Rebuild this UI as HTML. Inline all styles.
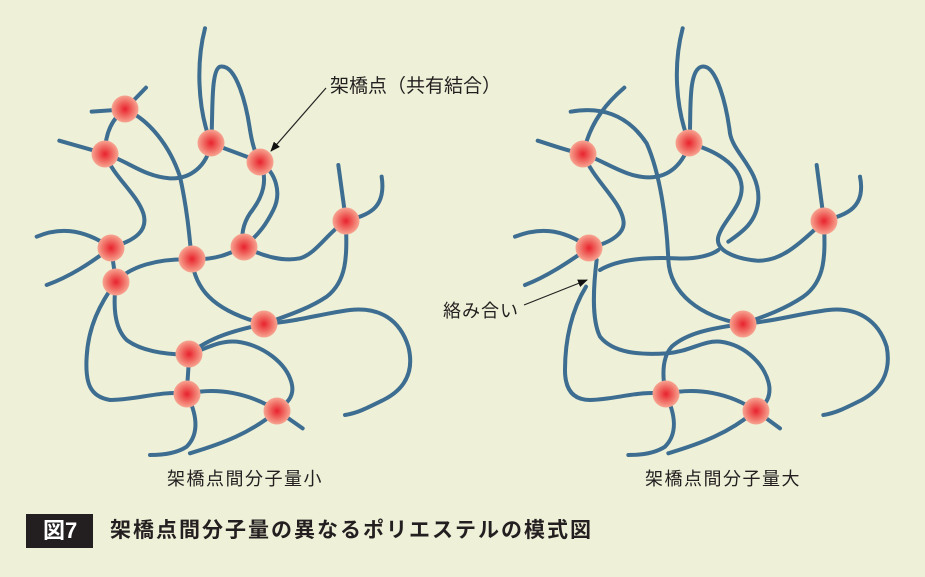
<!DOCTYPE html>
<html><head><meta charset="utf-8"><style>
html,body{margin:0;padding:0;}
body{width:925px;height:577px;background:#eef0d7;position:relative;overflow:hidden;font-family:"Liberation Sans","Noto Sans CJK JP",sans-serif;}
svg{position:absolute;left:0;top:0;}
.t{position:absolute;color:#231f20;white-space:nowrap;}
</style></head><body>
<svg width="925" height="577" viewBox="0 0 925 577">
<defs>
<radialGradient id="n" cx="50%" cy="50%" r="50%">
<stop offset="0" stop-color="#e8222e"/><stop offset="0.55" stop-color="#f06a62"/><stop offset="1" stop-color="#f7a592"/>
</radialGradient>
<marker id="ar" markerWidth="10" markerHeight="8" refX="9" refY="4" orient="auto" markerUnits="userSpaceOnUse"><path d="M0,0 L10,4 L0,8 z" fill="#111"/></marker>
</defs>
<g transform="translate(30,20) scale(0.33333)" fill="none" stroke="#3d6d90" stroke-width="12" stroke-linecap="round">
<path d="M185,275 L285,268 L348,203"/>
<path d="M285,268 C240,300 225,350 225,402"/>
<path d="M88,362 C150,380 190,390 225,402 C290,420 340,470 420,475 C480,478 530,440 543,370"/>
<path d="M525,25 C500,120 500,260 543,370"/>
<path d="M543,370 C550,300 540,150 570,140 C620,130 650,260 660,330 C668,380 680,410 690,425"/>
<path d="M543,370 L690,425"/>
<path d="M285,268 C360,300 420,380 450,470 C470,560 478,640 485,718"/>
<path d="M225,402 C250,470 320,520 340,580 C355,630 320,660 243,683"/>
<path d="M20,650 C80,625 150,620 243,683"/>
<path d="M50,795 C120,770 180,730 243,683"/>
<path d="M243,683 L258,785"/>
<path d="M258,785 C300,740 380,715 485,718"/>
<path d="M485,718 C560,720 600,700 643,680"/>
<path d="M690,425 C715,480 700,530 660,580 C640,610 630,650 643,680"/>
<path d="M690,425 C740,460 755,520 730,570 C710,610 690,640 643,680"/>
<path d="M643,680 C700,710 760,725 810,715 C860,700 890,640 948,603"/>
<path d="M925,435 L948,603"/>
<path d="M948,603 C1010,585 1070,570 1055,470"/>
<path d="M948,603 C950,700 955,780 890,830 C830,870 760,890 703,912"/>
<path d="M485,718 C495,800 540,870 703,912"/>
<path d="M703,912 C800,905 880,880 960,870 C1050,860 1110,900 1135,980 C1155,1060 1120,1110 1060,1140 C1010,1165 980,1180 945,1185"/>
<path d="M258,785 C250,850 250,920 290,960 C330,990 400,1005 478,1003"/>
<path d="M258,785 C210,850 175,920 170,1010 C165,1090 180,1130 240,1140 C320,1140 400,1110 470,1122"/>
<path d="M703,912 C620,930 540,950 478,1003"/>
<path d="M478,1003 C530,985 570,960 620,965 C700,975 770,1030 785,1090 C795,1130 770,1150 742,1172"/>
<path d="M478,1003 L470,1122"/>
<path d="M470,1122 C560,1100 660,1120 742,1172"/>
<path d="M470,1122 C500,1180 510,1240 470,1280 C440,1300 400,1305 360,1305"/>
<path d="M742,1172 C660,1240 580,1270 480,1300"/>
<path d="M742,1172 L818,1225"/>
</g>
<g fill="url(#n)">
<circle cx="125" cy="109" r="13.5"/><circle cx="105" cy="154" r="13.5"/><circle cx="211" cy="143" r="13.5"/><circle cx="260" cy="162" r="13.5"/><circle cx="346" cy="221" r="13.5"/><circle cx="111" cy="248" r="13.5"/><circle cx="192" cy="259" r="13.5"/><circle cx="244" cy="247" r="13.5"/><circle cx="116" cy="282" r="13.5"/><circle cx="264" cy="324" r="13.5"/><circle cx="189" cy="354" r="13.5"/><circle cx="187" cy="394" r="13.5"/><circle cx="277" cy="411" r="13.5"/>
</g>
<g transform="translate(500,20) scale(0.33333)" fill="none" stroke="#3d6d90" stroke-width="12" stroke-linecap="round">
<path d="M373,203 C330,240 270,300 250,402"/>
<path d="M212,275 C300,260 380,280 440,370 C480,460 500,600 505,720 C510,820 600,890 728,912"/>
<path d="M113,362 C170,380 210,395 250,402 C310,420 380,475 450,472 C510,470 550,430 568,370"/>
<path d="M548,25 C520,130 525,260 568,370"/>
<path d="M568,370 C575,300 560,150 605,140 C650,130 680,260 690,340 C700,400 780,450 775,540 C770,610 720,640 685,665"/>
<path d="M568,370 C640,390 720,430 725,500 C728,560 670,600 655,650 C645,690 700,715 770,722 C840,725 890,680 972,603"/>
<path d="M300,750 C360,715 450,712 530,715 C590,718 635,705 655,690"/>
<path d="M950,435 L972,603"/>
<path d="M972,603 C1030,585 1100,570 1080,470"/>
<path d="M972,603 C975,700 980,780 910,830 C850,870 790,890 728,912"/>
<path d="M728,912 C820,905 900,880 985,870 C1070,860 1135,900 1160,980 C1175,1060 1140,1110 1085,1140 C1035,1165 1005,1180 970,1185"/>
<path d="M250,402 C280,480 360,540 370,600 C378,640 330,670 268,683"/>
<path d="M45,650 C110,625 180,620 268,683"/>
<path d="M75,795 C140,770 200,730 268,683"/>
<path d="M290,720 C280,800 275,900 300,950 C340,1000 420,1005 500,1000 C570,995 610,960 660,965 C740,975 800,1040 808,1100 C812,1140 790,1160 767,1172"/>
<path d="M258,800 C215,870 195,960 195,1050 C195,1110 220,1140 270,1140 C350,1138 420,1110 497,1122"/>
<path d="M728,912 C630,925 560,940 515,980 C488,1010 485,1060 497,1122"/>
<path d="M497,1122 C590,1100 690,1120 767,1172"/>
<path d="M497,1122 C525,1180 535,1240 495,1280 C465,1300 425,1305 385,1305"/>
<path d="M767,1172 C685,1240 605,1270 505,1300"/>
<path d="M767,1172 L840,1225"/>
</g>
<g fill="url(#n)">
<circle cx="583" cy="154" r="13.5"/><circle cx="689" cy="143" r="13.5"/><circle cx="824" cy="221" r="13.5"/><circle cx="589" cy="248" r="13.5"/><circle cx="743" cy="324" r="13.5"/><circle cx="666" cy="394" r="13.5"/><circle cx="756" cy="411" r="13.5"/>
</g>
<line x1="326" y1="88" x2="271" y2="151" stroke="#222" stroke-width="1.2" marker-end="url(#ar)"/>
<line x1="524" y1="305" x2="587" y2="280" stroke="#222" stroke-width="1.2" marker-end="url(#ar)"/>
<rect x="26" y="514" width="67" height="34" fill="#231f20"/>
</svg>
<div class="t" style="left:330px;top:76px;font-size:19px;line-height:22px;">架橋点（共有結合）</div>
<div class="t" style="left:443px;top:300px;font-size:18px;letter-spacing:1px;line-height:22px;">絡み合い</div>
<div class="t" style="left:167px;top:468px;font-size:18px;letter-spacing:1.5px;line-height:22px;">架橋点間分子量小</div>
<div class="t" style="left:645px;top:468px;font-size:18px;letter-spacing:1.5px;line-height:22px;">架橋点間分子量大</div>
<div class="t" style="left:43px;top:519px;font-size:22px;line-height:24px;font-weight:bold;color:#fff;">図7</div>
<div class="t" style="left:110px;top:519px;font-size:21px;letter-spacing:2px;line-height:24px;font-weight:bold;">架橋点間分子量の異なるポリエステルの模式図</div>
</body></html>
